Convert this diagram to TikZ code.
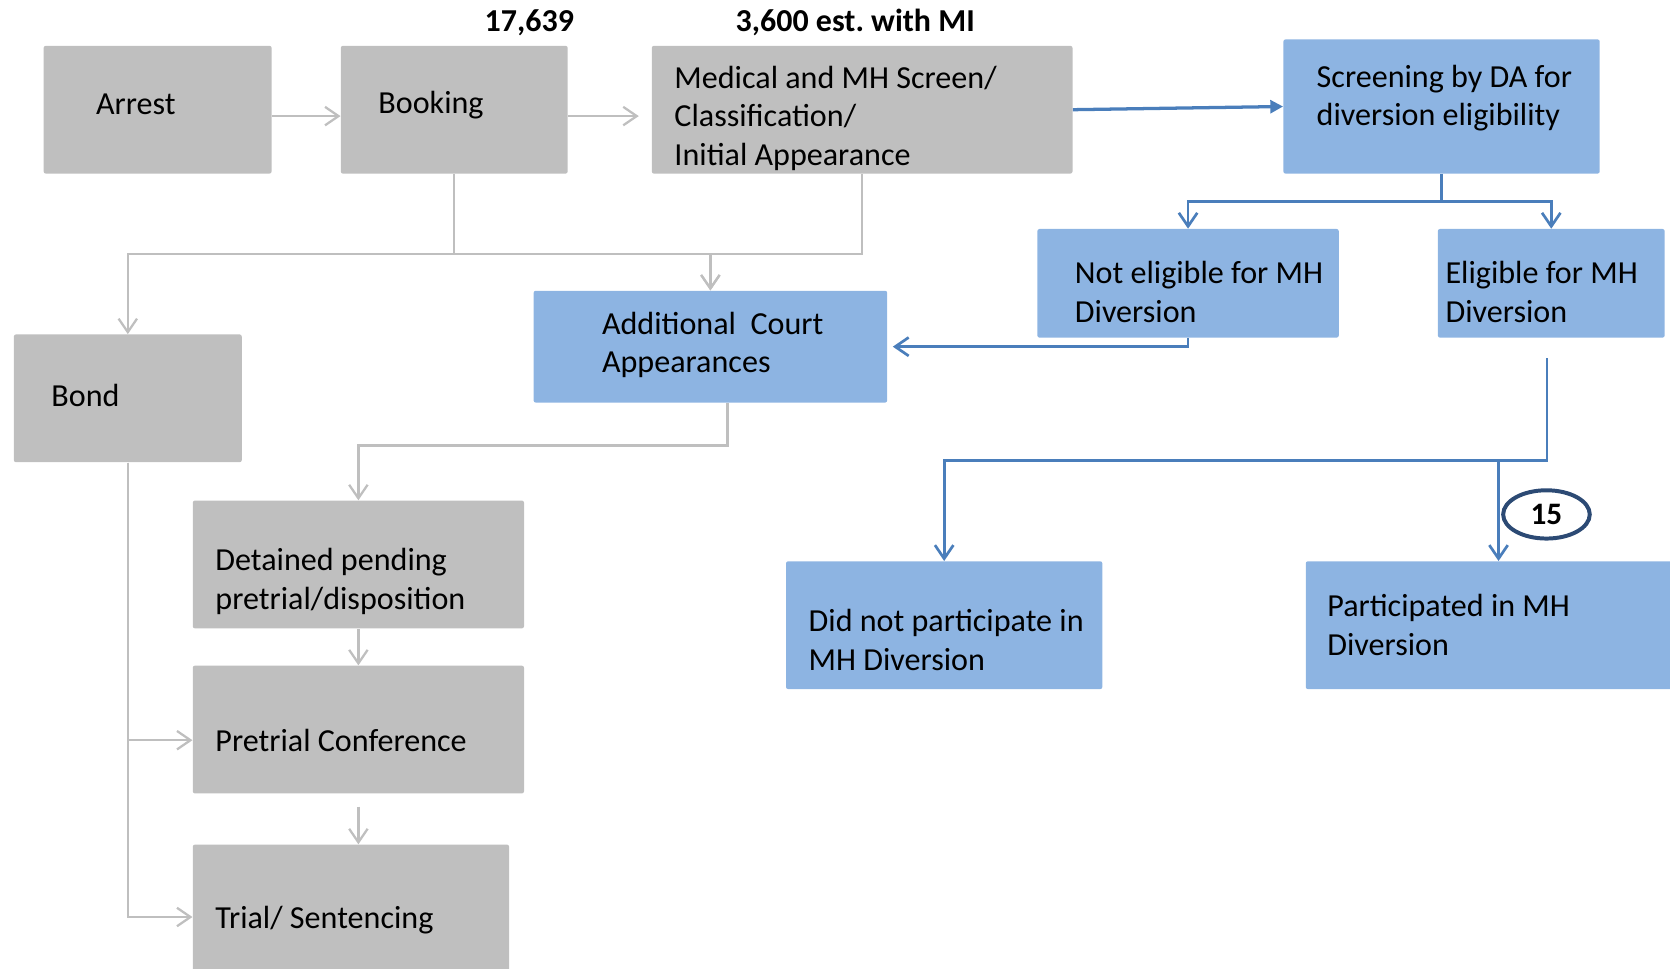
\documentclass[tikz,border=0pt]{standalone}
\usepackage{fontspec}
\setmainfont{Carlito}
\frenchspacing
\usetikzlibrary{arrows.meta,calc,fit,shapes.geometric}
\definecolor{boxgray}{HTML}{BFBFBF}
\definecolor{boxblue}{HTML}{8DB4E2}
\definecolor{linegray}{HTML}{BFBFBF}
\definecolor{lineblue}{HTML}{4A7EBB}
\definecolor{ringblue}{HTML}{2C4A74}
\begin{document}
\begin{tikzpicture}[x=0.75pt,y=-0.75pt,
  gbox/.style={fill=boxgray, rounded corners=1.5pt, inner sep=0pt},
  bbox/.style={fill=boxblue, rounded corners=1.5pt, inner sep=0pt},
  txt/.style={anchor=west, align=left, inner sep=0pt, font=\fontsize{22.6}{27.2}\selectfont},
  num/.style={inner sep=0pt, font=\fontsize{22.5}{27}\selectfont\bfseries},
  garrow/.style={draw=linegray, line width=1.6pt, -{Straight Barb[length=9.5pt,width=13pt]}},
  barrow/.style={draw=lineblue, line width=1.9pt, -{Straight Barb[length=9.5pt,width=13pt]}},
]
\useasboundingbox (0,0) rectangle (1568,909);

% process boxes
\node[gbox, fit={(41,43)(255,163)}] (arrest) {};
\node[gbox, fit={(320,43)(533,163)}] (booking) {};
\node[gbox, fit={(612,43)(1007,163)}] (medical) {};
\node[bbox, fit={(1205,37)(1502,163)}] (screen) {};
\node[bbox, fit={(974,215)(1257,317)}] (noelig) {};
\node[bbox, fit={(1350,215)(1563,317)}] (elig) {};
\node[bbox, fit={(501,273)(833,378)}] (court) {};
\node[gbox, fit={(13,314)(227,434)}] (bond) {};
\node[gbox, fit={(181,470)(492,590)}] (detained) {};
\node[gbox, fit={(181,625)(492,745)}] (pretrial) {};
\node[gbox, fit={(181,793)(478,929)}] (trial) {};
\node[bbox, fit={(738,527)(1035,647)}] (nopart) {};
\node[bbox, fit={(1226,527)(1600,647)}] (part) {};

% box texts
\node[txt] (arrest-t) at (90,98) {Arrest};
\node[txt] (booking-t) at (355,99) {Booking};
\node[txt] (medical-t) at (633,111) {Medical and MH Screen/\\Classification/\\Initial Appearance};
\node[txt] (screen-t) at (1236,92) {Screening by DA for\\diversion eligibility};
\node[txt] (noelig-t) at (1009,274) {Not eligible for MH\\Diversion};
\node[txt] (elig-t) at (1357,274) {Eligible for MH\\Diversion};
\node[txt] (court-t) at (565,324) {Additional\ \ Court\\Appearances};
\node[txt] (bond-t) at (48,371) {Bond};
\node[txt] (detained-t) at (202,546) {Detained pending\\pretrial/disposition};
\node[txt] (pretrial-t) at (202,695) {Pretrial Conference};
\node[txt] (trial-t) at (202,864) {Trial/ Sentencing};
\node[txt] (nopart-t) at (759,601) {Did not participate in\\MH Diversion};
\node[txt] (part-t) at (1246,587) {Participated in MH\\Diversion};

% counts
\node[num] (bookcount) at (497,21) {17,639};
\node[num] (micount) at (803,21) {3,600 est. with MI};

% gray flow
\draw[garrow] ($(arrest.east)+(0,6)$) -- ($(booking.west)+(0,6)$);
\draw[garrow] ($(booking.east)+(0,6)$) -- ($(medical.west)+(-12,6)$);
\draw[garrow] (booking.south) -- ++(0,75) -| (bond.north);
\draw[garrow] (booking.south) -- ++(0,75) -| (court.north);
\draw[garrow] (medical.south) -- ++(0,75) -| (court.north);
\draw[garrow] ($(court.south)+(16,0)$) -- ++(0,40) -| (detained.north);
\draw[garrow] (detained.south) -- (pretrial.north);
\draw[garrow] ($(pretrial.south)+(0,12)$) -- (pretrial.south |- trial.north);
\draw[garrow] (bond.south) |- ($(pretrial.west)+(0,10)$);
\draw[garrow] (bond.south) |- (trial.west);

% blue flow
\draw[lineblue, line width=2.3pt, -{Triangle[length=9pt,width=9pt]}] (medical.east) -- (screen.west);
\draw[barrow] (screen.south) -- ++(0,26) -| (noelig.north);
\draw[barrow] (screen.south) -- ++(0,26) -| (elig.north);
\draw[barrow] (noelig.south) |- ($(court.east)+(5,0)$);
\coordinate (eligout) at ($(elig.south)+(-4,19)$);
\coordinate (fork) at ($(eligout)+(0,96)$);
\draw[barrow] (eligout) -- (fork) -| (nopart.north);
\draw[barrow] (eligout) -- (fork) -| ($(part.north)+(-6,0)$);

% participant count
\node[ellipse, draw=ringblue, line width=2.8pt, fill=white, minimum width=61pt,
  minimum height=34pt, inner sep=0pt, font=\fontsize{22}{26}\selectfont\bfseries] (ring) at (1452,483) {15};
\end{tikzpicture}
\end{document}
